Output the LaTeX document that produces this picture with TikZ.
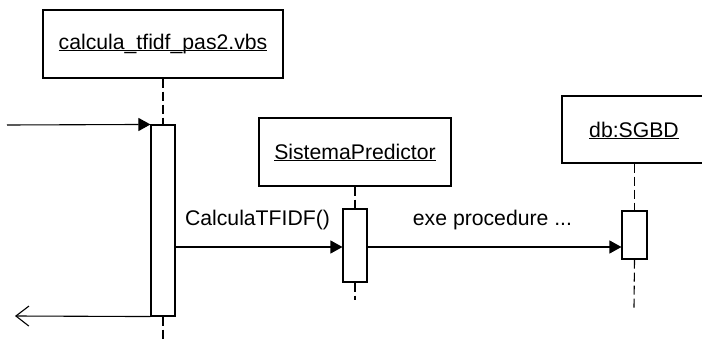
\documentclass[tikz,border=0pt]{standalone}
\usepackage{fontspec}
\setmainfont{Liberation Sans}
\usetikzlibrary{arrows.meta}
\newcommand\myul[1]{\setbox0\hbox{#1}\rlap{\rule[-2.3pt]{\wd0}{1.1pt}}\box0}
\begin{document}
\begin{tikzpicture}[x=1pt,y=-1pt,line width=1.1pt,
  every node/.style={font=\fontsize{21.2}{25}\selectfont},
  headbox/.style={draw,minimum height=68pt,inner sep=0pt},
  actbox/.style={draw,fill=white,minimum width=24pt,inner sep=0pt},
  lifeline/.style={dash pattern=on 9pt off 4pt},
  lbl/.style={anchor=base,inner sep=0pt},
  msg/.style={-{Triangle[length=12pt,width=13pt]}},
  ret/.style={-{Straight Barb[length=13pt,width=20pt]}}]
\useasboundingbox (0,0) rectangle (702,340);
% heads
\node[headbox,minimum width=240pt] (h1) at (163,44) {};
\node[lbl] (t1) at (163,49) {\myul{calcula\_tfidf\_pas2.vbs}};
\node[headbox,minimum width=192pt] (h2) at (355,152) {};
\node[lbl] (t2) at (355,159) {\myul{SistemaPredictor}};
\node[headbox,minimum width=144pt,minimum height=67pt] (h3) at (634,129.5) {};
\node[lbl] (t3) at (634,137) {\myul{db:SGBD}};
% activations
\node[actbox,minimum height=191pt] (a1) at (163,220.5) {};
\node[actbox,minimum height=73pt] (a2) at (355,245.5) {};
\node[actbox,minimum width=25pt,minimum height=48pt] (a3) at (634.5,235) {};
% lifeline ends
\coordinate (e1) at (163,340);
\coordinate (e2) at (355,300);
\coordinate (e3) at (634,308);
\draw[lifeline] (h1.south) -- (a1.north);
\draw[lifeline] (a1.south) -- (e1);
\draw[lifeline] (h2.south) -- (a2.north);
\draw[lifeline] (a2.south) -- (e2);
\draw[lifeline] (h3.south -| a3.north) -- (a3.north);
\draw[lifeline] (a3.south) -- (e3);
% messages
\coordinate (in) at (7,125);
\coordinate (out) at (15,316);
\draw[msg] (in) -- (a1.north west);
\draw[ret] (a1.south west) -- (out);
\coordinate (m1) at (175,247);
\draw[msg] (m1) -- (m1 -| a2.west);
\coordinate (m2) at (367,247);
\draw[msg] (m2) -- (m2 -| a3.west);
\node[lbl] (l1) at (257.5,225) {CalculaTFIDF()};
\node[lbl] (l2) at (492.5,225) {exe procedure ...};
\end{tikzpicture}
\end{document}
